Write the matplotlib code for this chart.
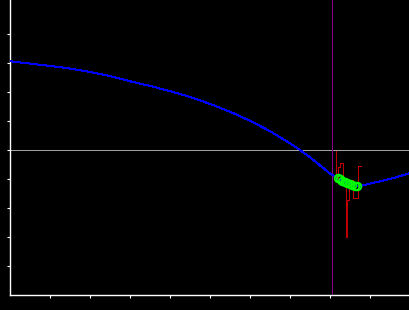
import matplotlib
matplotlib.use("Agg")
import matplotlib.pyplot as plt

# 蓝色主曲线
curve_x = [0.0, 0.5, 1.0, 1.5, 2.0, 2.5, 3.0, 3.5, 4.0, 4.5, 5.0, 5.5, 6.0, 6.5,
           7.0, 7.25, 7.5, 8.0, 8.25, 8.5, 8.75, 9.0, 9.5, 10.0]
curve_y = [3.06, 2.98, 2.90, 2.81, 2.69, 2.55, 2.37, 2.21, 2.03, 1.83, 1.59, 1.32,
           1.01, 0.65, 0.23, 0.0, -0.25, -0.81, -1.03, -1.18, -1.25, -1.16, -1.00, -0.80]

# 绿色圆圈
pts_x = [8.19, 8.25, 8.31, 8.375, 8.43, 8.5, 8.56, 8.625, 8.68]
pts_y = [-0.98, -1.01, -1.06, -1.09, -1.13, -1.17, -1.21, -1.24, -1.25]

# 红色阶梯线
step_x = [8.16, 8.16, 8.21, 8.24, 8.33, 8.39, 8.43, 8.48, 8.54, 8.58, 8.69, 8.78]
step_y = [-0.03, -1.03, -0.59, -0.45, -1.21, -3.0, -1.72, -1.10, -1.03, -1.66, -0.55, -0.55]

marker_x = 8.05
baseline_y = 0.0

LW = 0.72  # 约 1 像素

fig = plt.figure(figsize=(4.1, 3.1), dpi=100, facecolor="black")
ax = fig.add_axes([10 / 410, 15 / 310, 400 / 410, 295 / 310])
ax.set_facecolor("black")

ax.axhline(baseline_y, color="#a0a0a0", linewidth=LW, zorder=1, antialiased=False)
ax.axvline(marker_x, color="#8c008c", linewidth=LW, zorder=2, antialiased=False)
ax.plot(curve_x, curve_y, color="#0000ff", linewidth=LW, zorder=3, antialiased=False)
ax.plot(step_x, step_y, color="#c00000", linewidth=LW, drawstyle="steps-post",
        zorder=4, antialiased=False)
ax.plot(pts_x, pts_y, linestyle="none", marker="o", markersize=5.5,
        markerfacecolor="none", markeredgecolor="#00ff00", markeredgewidth=1.3, zorder=5)

ax.set_xlim(0, 10)
ax.set_ylim(-5, 150 / 29)
ax.set_xticks(range(1, 10))
ax.set_yticks(range(-4, 5))
ax.set_xticklabels([])
ax.set_yticklabels([])
ax.tick_params(colors="white", length=2.5, width=0.8, direction="out")

for side in ["top", "right"]:
    ax.spines[side].set_visible(False)
for side in ["left", "bottom"]:
    ax.spines[side].set_color("white")
    ax.spines[side].set_linewidth(1.0)

fig.savefig("out.png", dpi=100, facecolor="black")
